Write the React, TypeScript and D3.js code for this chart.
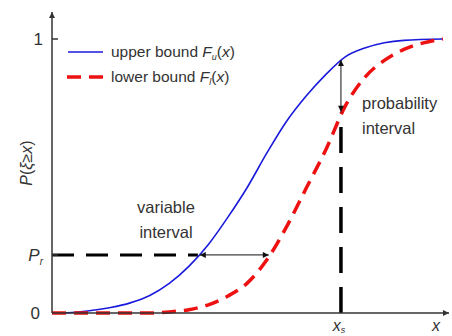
import React from "react";
import * as d3 from "d3";

const upperX = [0, 0.5, 1.0, 1.5, 2.0, 2.5, 3.0, 3.5, 4.0, 4.5, 5.0, 5.5, 6.0, 6.5, 7.0, 7.5, 8.0, 8.5, 9.0, 10];
const upperY = [0, 0.002, 0.009, 0.02, 0.037, 0.064, 0.108, 0.17, 0.25, 0.35, 0.46, 0.585, 0.70, 0.792, 0.87, 0.935, 0.967, 0.986, 0.995, 1.0];
const lowerX = [0, 2.5, 3.0, 3.5, 4.0, 4.5, 5.0, 5.5, 6.0, 6.5, 7.0, 7.5, 8.0, 8.5, 9.0, 9.5, 10];
const lowerY = [0, 0, 0.004, 0.012, 0.03, 0.062, 0.11, 0.195, 0.315, 0.455, 0.595, 0.755, 0.86, 0.922, 0.962, 0.986, 1.0];
const prValue = 0.212;
const xsValue = 7.39;
const upperAtXs = 0.923;
const lowerAtXs = 0.72;
const prUpperX = 3.73;
const prLowerX = 5.57;

export default function App() {
  const W = 452, H = 336;
  const x = d3.scaleLinear().domain([0, 10]).range([52, 443]);
  const y = d3.scaleLinear().domain([0, 1]).range([313, 39]);
  const line = d3.line<[number, number]>().x(d => x(d[0])).y(d => y(d[1])).curve(d3.curveMonotoneX);
  const up = upperX.map((v, i) => [v, upperY[i]] as [number, number]);
  const lo = lowerX.map((v, i) => [v, lowerY[i]] as [number, number]);
  const axisColor = "#333";
  const font = "Liberation Sans, Arial, sans-serif";
  const textColor = "#333";
  return (
    <div style={{ position: "absolute", left: 0, top: 0 }}>
      <svg width={W} height={H} style={{ display: "block", background: "#fff" }}>
        <defs>
          <marker id="ah" viewBox="0 0 10 10" refX="10" refY="5" markerWidth="8" markerHeight="6" orient="auto-start-reverse" markerUnits="userSpaceOnUse">
            <path d="M0,0 L10,5 L0,10 z" fill="#111" />
          </marker>
          <marker id="axh" viewBox="0 0 10 10" refX="10" refY="5" markerWidth="7" markerHeight="6" orient="auto" markerUnits="userSpaceOnUse">
            <path d="M0,0 L10,5 L0,10 z" fill={axisColor} />
          </marker>
        </defs>
        {/* curves */}
        <path d={line(up) || ""} fill="none" stroke="#1a1adc" strokeWidth={1.6} />
        <path d={line(lo) || ""} fill="none" stroke="#ee1111" strokeWidth={3.5} strokeDasharray="14 8" />
        {/* Pr dashed */}
        <line x1={x(0)} x2={x(prUpperX)} y1={y(prValue)} y2={y(prValue)} stroke="#000" strokeWidth={3} strokeDasharray="22 12" />
        {/* xs dashed */}
        <line x1={x(xsValue)} x2={x(xsValue)} y1={y(0)} y2={y(lowerAtXs) - 3} stroke="#000" strokeWidth={3.5} strokeDasharray="26 14" />
        {/* arrows */}
        <line x1={x(prUpperX) + 2} x2={x(prLowerX) - 1} y1={y(prValue)} y2={y(prValue)} stroke="#111" strokeWidth={1} markerStart="url(#ah)" markerEnd="url(#ah)" />
        <line x1={x(xsValue)} x2={x(xsValue)} y1={y(upperAtXs)} y2={y(lowerAtXs) - 4} stroke="#111" strokeWidth={1} markerStart="url(#ah)" markerEnd="url(#ah)" />
        {/* axes */}
        <line x1={52} x2={52} y1={313} y2={12} stroke={axisColor} strokeWidth={1.5} markerEnd="url(#axh)" />
        <line x1={52} x2={449} y1={313} y2={313} stroke={axisColor} strokeWidth={1.5} markerEnd="url(#axh)" />
        <line x1={52} x2={58} y1={y(1)} y2={y(1)} stroke={axisColor} strokeWidth={1.5} />
        <line x1={52} x2={58} y1={y(prValue)} y2={y(prValue)} stroke={axisColor} strokeWidth={1.5} />
        {/* y tick labels */}
        <text x={43} y={y(1) + 6} textAnchor="end" fontFamily={font} fontSize={17} fill={textColor}>1</text>
        <text x={43} y={y(prValue) + 6} textAnchor="end" fontFamily={font} fontSize={17} fill={textColor} fontStyle="italic">P<tspan fontSize={10} dy={4}>r</tspan></text>
        <text x={40} y={y(0) + 6} textAnchor="end" fontFamily={font} fontSize={17} fill={textColor}>0</text>
        {/* y label */}
        <text transform="translate(32,163) rotate(-90)" textAnchor="middle" fontFamily={font} fontSize={16} fill={textColor}>
          <tspan fontStyle="italic">P</tspan>(<tspan fontStyle="italic">ξ</tspan>≥<tspan fontStyle="italic">x</tspan>)
        </text>
        {/* x labels */}
        <text x={x(xsValue) - 2} y={331} textAnchor="middle" fontFamily={font} fontSize={16} fill={textColor} fontStyle="italic">x<tspan fontSize={9} dy={2}>s</tspan></text>
        <text x={436} y={331} textAnchor="middle" fontFamily={font} fontSize={16} fill={textColor} fontStyle="italic">x</text>
        {/* legend */}
        <line x1={68} x2={103} y1={52} y2={52} stroke="#1a1adc" strokeWidth={1.6} />
        <line x1={67} x2={105} y1={77} y2={77} stroke="#ee1111" strokeWidth={3.5} strokeDasharray="14 8" />
        <text x={111} y={57} fontFamily={font} fontSize={15.5} fill={textColor}>upper bound <tspan fontStyle="italic">F</tspan><tspan fontSize={9} dy={3} fontStyle="italic">u</tspan><tspan dy={-3}>(</tspan><tspan fontStyle="italic">x</tspan>)</text>
        <text x={111} y={82} fontFamily={font} fontSize={15.5} fill={textColor}>lower bound <tspan fontStyle="italic">F</tspan><tspan fontSize={9} dy={3} fontStyle="italic">l</tspan><tspan dy={-3}>(</tspan><tspan fontStyle="italic">x</tspan>)</text>
        {/* annotations */}
        <text x={166} y={213} textAnchor="middle" fontFamily={font} fontSize={16.5} fill={textColor}>variable</text>
        <text x={166} y={238} textAnchor="middle" fontFamily={font} fontSize={16.5} fill={textColor}>interval</text>
        <text x={362} y={109} fontFamily={font} fontSize={16.5} fill={textColor}>probability</text>
        <text x={362} y={134} fontFamily={font} fontSize={16.5} fill={textColor}>interval</text>
      </svg>
    </div>
  );
}
